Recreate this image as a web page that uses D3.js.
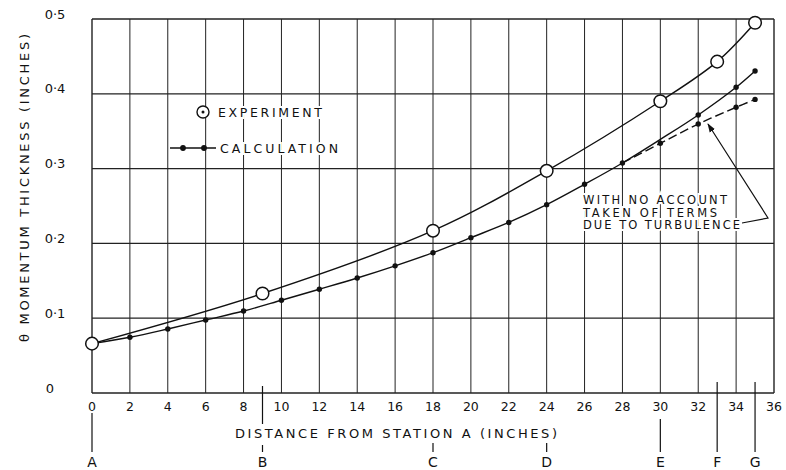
<!DOCTYPE html>
<html><head><meta charset="utf-8">
<script src="https://cdn.jsdelivr.net/npm/d3@7"></script>
<style>body{margin:0;background:#fff}svg{display:block}text{font-family:"DejaVu Sans",sans-serif;fill:#111}</style>
</head><body><svg id="c" width="786" height="470"></svg>
<script>
const xTicks = [0,2,4,6,8,10,12,14,16,18,20,22,24,26,28,30,32,34,36];
const yTicks = [0,0.1,0.2,0.3,0.4,0.5];
const yTickLabels = ["0","0·1","0·2","0·3","0·4","0·5"];
const stations = ["A","B","C","D","E","F","G"];
const stationX = [0,9,18,24,30,33,35];
const expX = [0,9,18,24,30,33,35];
const expY = [0.066,0.133,0.217,0.297,0.390,0.443,0.495];
const calcX = [0,2,4,6,8,10,12,14,16,18,20,22,24,26,28,30,32,34,35];
const calcY = [0.066,0.0745,0.0856,0.0976,0.1096,0.124,0.1387,0.1537,0.170,0.1876,0.2077,0.228,0.2518,0.279,0.3075,0.339,0.3717,0.4087,0.4305];
const calcDotX = [0,2,4,6,8,10,12,14,16,18,20,22,24,26,28,32,34,35];
const turbX = [28,30,32,34,35];
const turbY = [0.3075,0.3338,0.3596,0.382,0.3925];
const annotation = ["WITH NO ACCOUNT","TAKEN OF TERMS","DUE TO TURBULENCE"];

const svg = d3.select("#c");
const x = d3.scaleLinear().domain([0,36]).range([92,774]);
const y = d3.scaleLinear().domain([0,0.5]).range([393,19]);

// grid
const g = svg.append("g");
g.selectAll(".vg").data(xTicks).join("line")
  .attr("x1",d=>x(d)).attr("x2",d=>x(d)).attr("y1",y(0.5)).attr("y2",y(0))
  .attr("stroke","#222").attr("stroke-width",d=>(d===0||d===36)?1.4:1);
g.selectAll(".hg").data(yTicks).join("line")
  .attr("x1",x(0)).attr("x2",x(36)).attr("y1",d=>y(d)).attr("y2",d=>y(d))
  .attr("stroke","#222").attr("stroke-width",d=>(d===0||d===0.5)?1.4:1.2);

// x tick labels
svg.selectAll(".xl").data(xTicks).join("text")
  .attr("x",d=>x(d)).attr("y",y(0)+18).attr("text-anchor","middle")
  .attr("font-size",12.5).text(d=>d);
// y tick labels
svg.selectAll(".yl").data(yTicks).join("text")
  .attr("x",(d,i)=>i===0?50:55).attr("y",d=>y(d)-0.5).attr("text-anchor","middle")
  .attr("font-size",13).text((d,i)=>yTickLabels[i]);

// axis titles
svg.append("text").attr("transform","translate(29,188) rotate(-90)")
  .attr("text-anchor","middle").attr("font-size",13)
  .attr("textLength",308).attr("lengthAdjust","spacing")
  .text("θ MOMENTUM THICKNESS (INCHES)");
svg.append("text").attr("x",396).attr("y",438).attr("text-anchor","middle")
  .attr("font-size",13).attr("textLength",322).attr("lengthAdjust","spacing")
  .text("DISTANCE FROM STATION A (INCHES)");

// station markers
const stTop = [413,386,443,443,419,382,382];
const stBotGap = [null,[424,445],null,null,null,null,null];
stations.forEach((s,i)=>{
  const sx = x(stationX[i]);
  if (stBotGap[i]) {
    svg.append("line").attr("x1",sx).attr("x2",sx).attr("y1",stTop[i]).attr("y2",stBotGap[i][0]).attr("stroke","#111").attr("stroke-width",1.2);
    svg.append("line").attr("x1",sx).attr("x2",sx).attr("y1",stBotGap[i][1]).attr("y2",452).attr("stroke","#111").attr("stroke-width",1.2);
  } else {
    svg.append("line").attr("x1",sx).attr("x2",sx).attr("y1",stTop[i]).attr("y2",452).attr("stroke","#111").attr("stroke-width",1.2);
  }
  svg.append("text").attr("x",sx).attr("y",467).attr("text-anchor","middle").attr("font-size",14).text(s);
});

// lines
const line = d3.line().x(d=>x(d[0])).y(d=>y(d[1])).curve(d3.curveCatmullRom.alpha(0.5));
svg.append("path").attr("d",line(expX.map((v,i)=>[v,expY[i]])))
  .attr("fill","none").attr("stroke","#111").attr("stroke-width",1.4);
svg.append("path").attr("d",line(calcX.map((v,i)=>[v,calcY[i]])))
  .attr("fill","none").attr("stroke","#111").attr("stroke-width",1.4);
svg.append("path").attr("d",line(turbX.map((v,i)=>[v,turbY[i]])))
  .attr("fill","none").attr("stroke","#111").attr("stroke-width",1.4).attr("stroke-dasharray","9,4");

// dots
const calcDots = calcDotX.map(v=>[v,calcY[calcX.indexOf(v)]]).concat(turbX.slice(1).map((v,i)=>[v,turbY[i+1]]));
svg.selectAll(".cd").data(calcDots).join("circle")
  .attr("cx",d=>x(d[0])).attr("cy",d=>y(d[1])).attr("r",2.7).attr("fill","#111");
svg.selectAll(".ed").data(expX.map((v,i)=>[v,expY[i]])).join("circle")
  .attr("cx",d=>x(d[0])).attr("cy",d=>y(d[1])).attr("r",6.3)
  .attr("fill","#fff").attr("stroke","#111").attr("stroke-width",1.5);

// legend
const halo = sel => sel.attr("stroke","#fff").attr("stroke-width",4).attr("paint-order","stroke");
svg.append("circle").attr("cx",203).attr("cy",112).attr("r",6).attr("fill","#fff").attr("stroke","#111").attr("stroke-width",1.4);
svg.append("circle").attr("cx",203).attr("cy",112).attr("r",1.5).attr("fill","#111");
svg.append("text").attr("x",218).attr("y",117).attr("font-size",12.5)
  .attr("textLength",104).attr("lengthAdjust","spacing").call(halo).text("EXPERIMENT");
svg.append("line").attr("x1",170).attr("x2",216).attr("y1",148).attr("y2",148).attr("stroke","#111").attr("stroke-width",1.3);
svg.append("circle").attr("cx",183).attr("cy",148).attr("r",2.9).attr("fill","#111");
svg.append("circle").attr("cx",204).attr("cy",148).attr("r",2.9).attr("fill","#111");
svg.append("text").attr("x",220).attr("y",153).attr("font-size",12.5)
  .attr("textLength",118).attr("lengthAdjust","spacing").call(halo).text("CALCULATION");

// annotation
const annLen = [144,134,157];
annotation.forEach((t,i)=>{
  svg.append("text").attr("x",583).attr("y",204+i*12.5).attr("font-size",11.5)
    .attr("textLength",annLen[i]).attr("lengthAdjust","spacing").call(halo).text(t);
});
svg.append("defs").append("marker").attr("id","ah").attr("viewBox","0 0 10 10")
  .attr("refX",9).attr("refY",5).attr("markerWidth",9).attr("markerHeight",9).attr("orient","auto")
  .attr("markerUnits","userSpaceOnUse")
  .append("path").attr("d","M0,1.5 L10,5 L0,8.5 Z").attr("fill","#111");
svg.append("polyline").attr("points","742,223 768,218 708,124")
  .attr("fill","none").attr("stroke","#111").attr("stroke-width",1.2).attr("marker-end","url(#ah)");
</script></body></html>
